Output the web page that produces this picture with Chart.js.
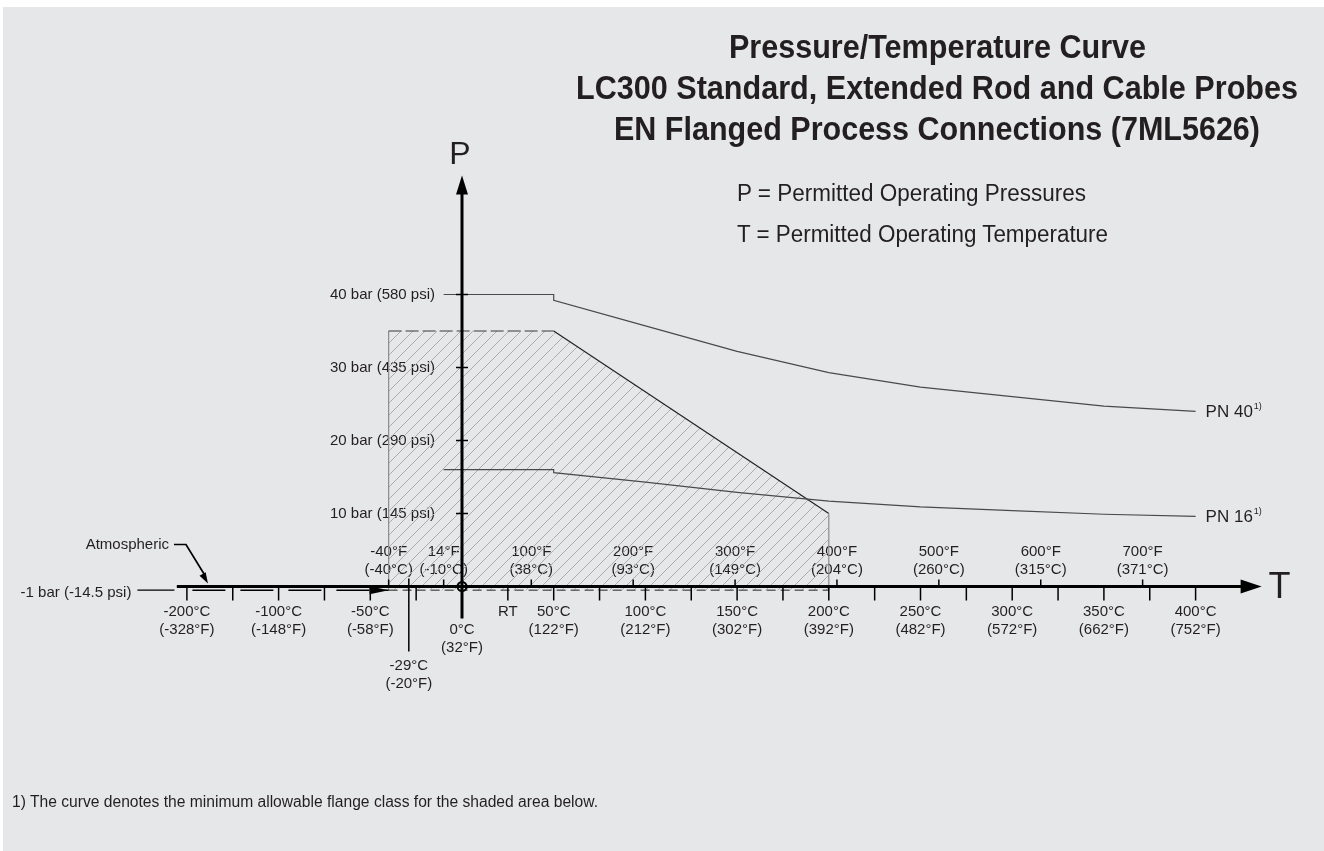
<!DOCTYPE html>
<html>
<head>
<meta charset="utf-8">
<script src="https://cdn.jsdelivr.net/npm/chart.js"></script>
<style>
html,body{margin:0;padding:0;background:#fff;width:1324px;height:851px;overflow:hidden}
#bg{position:absolute;left:3px;top:7px;right:0;bottom:0;background:#e6e7e8}
#wrap{position:absolute;left:0;top:0;width:1324px;height:851px}
.txt{position:absolute;white-space:nowrap;font-family:"Liberation Sans",Arial,Helvetica,sans-serif;color:#231f20;line-height:1;display:inline-block;transform-origin:0 0}
</style>
</head>
<body>
<div id="bg"></div>
<div id="wrap"><canvas id="c" width="1324" height="851"></canvas></div>
<span class="txt" id="t1"></span>
<span class="txt" id="t2"></span>
<span class="txt" id="t3"></span>
<span class="txt" id="l1"></span>
<span class="txt" id="l2"></span>
<span class="txt" id="fn"></span>
<script>
// ---------------- data ----------------
const titleLines = ['Pressure/Temperature Curve', 'LC300 Standard, Extended Rod and Cable Probes', 'EN Flanged Process Connections (7ML5626)'];
const legendLines = ['P = Permitted Operating Pressures', 'T = Permitted Operating Temperature'];
const footnote = '1) The curve denotes the minimum allowable flange class for the shaded area below.';

const pn40Temps = [-10, 50, 50, 100, 150, 200, 250, 300, 350, 400];
const pn40Bar   = [40, 40, 39.2, 35.7, 32.2, 29.3, 27.3, 26.0, 24.7, 24.0];
const pn16Temps = [-10, 50, 50, 100, 150, 200, 250, 300, 350, 400];
const pn16Bar   = [16, 16, 15.6, 14.3, 12.9, 11.7, 10.9, 10.4, 9.9, 9.6];

const shadedTemps = [-40, -40, 50, 200, 200];
const shadedBar   = [-1, 35, 35, 10, -1];

const vacuumTemps = [-40, 200];
const vacuumBar   = [-1, -1];
const brokenVacuumTemps = [-194, -40];
const brokenVacuumBar   = [-1, -1];

const celsiusTickValues = [-200, -150, -100, -75, -50, -25, 25, 50, 75, 100, 125, 150, 175, 200, 225, 250, 275, 300, 325, 350, 375, 400];
const celsiusLabelValues = [-200, -100, -50, 50, 100, 150, 200, 250, 300, 350, 400];
const celsiusLabelText = ['-200°C', '-100°C', '-50°C', '50°C', '100°C', '150°C', '200°C', '250°C', '300°C', '350°C', '400°C'];
const celsiusLabelSub  = ['(-328°F)', '(-148°F)', '(-58°F)', '(122°F)', '(212°F)', '(302°F)', '(392°F)', '(482°F)', '(572°F)', '(662°F)', '(752°F)'];

const fahrenheitValues = [-40, 14, 100, 200, 300, 400, 500, 600, 700];
const fahrenheitText = ['-40°F', '14°F', '100°F', '200°F', '300°F', '400°F', '500°F', '600°F', '700°F'];
const fahrenheitSub  = ['(-40°C)', '(-10°C)', '(38°C)', '(93°C)', '(149°C)', '(204°C)', '(260°C)', '(315°C)', '(371°C)'];

const pressureTickValues = [10, 20, 30, 40];
const pressureTickText = ['10 bar (145 psi)', '20 bar (290 psi)', '30 bar (435 psi)', '40 bar (580 psi)'];

const roomTemp = 25;
const lowTemp = -29;
const lowTempText = ['-29°C', '(-20°F)'];
const zeroText = ['0°C', '(32°F)'];
const vacuumText = '-1 bar (-14.5 psi)';
const atmText = 'Atmospheric';

// ---------------- helpers ----------------
const FONT = '"Liberation Sans", Arial, Helvetica, sans-serif';
const INK = '#231f20';
const fToC = f => (f - 32) * 5 / 9;

// linear scale with a compressed section below `breakAt`
class BrokenLinearScale extends Chart.LinearScale {
  fwd(v) {
    const b = this.options.breakAt, f = this.options.breakFactor;
    if (v === null || v === undefined) return v;
    return v < b ? b + (v - b) * f : v;
  }
  inv(p) {
    const b = this.options.breakAt, f = this.options.breakFactor;
    return p < b ? b + (p - b) / f : p;
  }
  configure() {
    super.configure();
    this._startValue = this.fwd(this.min);
    this._endValue = this.fwd(this.max);
    this._valueRange = this._endValue - this._startValue;
  }
  getPixelForValue(v) { return super.getPixelForValue(this.fwd(v)); }
  getValueForPixel(p) { return this.inv(super.getValueForPixel(p)); }
}
BrokenLinearScale.id = 'brokenLinear';
BrokenLinearScale.defaults = Chart.LinearScale.defaults;
Chart.register(BrokenLinearScale);

function hatchPattern(s, color) {
  const c = document.createElement('canvas');
  c.width = s; c.height = s;
  const g = c.getContext('2d');
  g.strokeStyle = color; g.lineWidth = 1;
  g.beginPath();
  g.moveTo(-1, s + 1); g.lineTo(s + 1, -1);
  g.moveTo(-1, 1); g.lineTo(1, -1);
  g.moveTo(s - 1, s + 1); g.lineTo(s + 1, s - 1);
  g.stroke();
  return g.createPattern(c, 'repeat');
}

const pts = (xs, ys) => xs.map((t, i) => ({x: t, y: ys[i]}));

function line(ctx, x1, y1, x2, y2) { ctx.beginPath(); ctx.moveTo(x1, y1); ctx.lineTo(x2, y2); ctx.stroke(); }
function tri(ctx, tx, ty, bx1, by1, bx2, by2) { ctx.beginPath(); ctx.moveTo(tx, ty); ctx.lineTo(bx1, by1); ctx.lineTo(bx2, by2); ctx.closePath(); ctx.fill(); }

const diagramPlugin = {
  id: 'ptDiagram',
  beforeDatasetsDraw(chart) {
    const {ctx} = chart; const sx = chart.scales.x, sy = chart.scales.y;
    const X = v => sx.getPixelForValue(v), Y = v => sy.getPixelForValue(v);
    const yA = Y(0);
    ctx.save();
    ctx.fillStyle = INK; ctx.font = '15px ' + FONT; ctx.textBaseline = 'middle';
    ctx.textAlign = 'right';
    pressureTickValues.forEach((v, i) => ctx.fillText(pressureTickText[i], X(0) - 27, Y(v)));
    ctx.textAlign = 'center';
    fahrenheitValues.forEach((f, i) => {
      const px = X(fToC(f));
      ctx.fillText(fahrenheitText[i], px, yA - 35);
      ctx.fillText(fahrenheitSub[i], px, yA - 17);
    });
    ctx.restore();
  },
  afterDatasetsDraw(chart) {
    const {ctx} = chart; const sx = chart.scales.x, sy = chart.scales.y;
    const X = v => sx.getPixelForValue(v), Y = v => sy.getPixelForValue(v);
    const yA = Y(0), x0 = X(0);
    ctx.save();
    ctx.strokeStyle = '#000'; ctx.fillStyle = '#000';

    // T axis (thick) with arrow
    const xStart = X(-211), xTip = X(436);
    ctx.lineWidth = 3;
    line(ctx, xStart, yA, xTip - 14, yA);
    tri(ctx, xTip, yA, xTip - 21, yA - 7, xTip - 21, yA + 7);

    // P axis with arrow
    const yTip = Y(56.3);
    line(ctx, x0, yA + 32, x0, yTip + 12);
    tri(ctx, x0, yTip, x0 - 6, yTip + 19, x0 + 6, yTip + 19);

    // pressure ticks
    ctx.lineWidth = 1.5;
    pressureTickValues.forEach(v => line(ctx, x0 - 6, Y(v), x0 + 6, Y(v)));

    // lower celsius ticks
    celsiusTickValues.forEach(v => line(ctx, X(v), yA, X(v), yA + 14));
    // upper fahrenheit ticks
    fahrenheitValues.forEach(f => line(ctx, X(fToC(f)), yA - 7, X(fToC(f)), yA));
    // -29 °C long marker
    line(ctx, X(lowTemp), yA - 8, X(lowTemp), yA + 65);

    // origin circle
    ctx.lineWidth = 2;
    ctx.beginPath(); ctx.arc(x0, yA, 4.5, 0, Math.PI * 2); ctx.stroke();

    // arrow head on broken vacuum line
    const ax = X(brokenVacuumTemps[1]), ay = Y(brokenVacuumBar[1]);
    tri(ctx, ax, ay, ax - 19, ay - 4, ax - 19, ay + 4);

    // -1 bar label + leader
    const vx = X(brokenVacuumTemps[0]);
    ctx.lineWidth = 1.3;
    line(ctx, vx - 55, ay, vx - 18, ay);
    ctx.fillStyle = INK; ctx.font = '15px ' + FONT; ctx.textBaseline = 'middle';
    ctx.textAlign = 'right';
    ctx.fillText(vacuumText, vx - 61, ay + 3);

    // Atmospheric label + leader arrow
    const tipX = X(-177), tipY = yA - 3;
    const kx = tipX - 22, ky = yA - 42;
    ctx.strokeStyle = '#000'; ctx.fillStyle = '#000';
    ctx.lineWidth = 1.7;
    ctx.beginPath(); ctx.moveTo(kx - 12, ky); ctx.lineTo(kx, ky); ctx.lineTo(tipX - 3, tipY - 8); ctx.stroke();
    const ang = Math.atan2(tipY - ky, tipX - kx);
    const bx = tipX - 11 * Math.cos(ang), by = tipY - 11 * Math.sin(ang);
    tri(ctx, tipX, tipY, bx + 3.5 * Math.sin(ang), by - 3.5 * Math.cos(ang), bx - 3.5 * Math.sin(ang), by + 3.5 * Math.cos(ang));
    ctx.fillStyle = INK;
    ctx.fillText(atmText, kx - 17, ky);

    // lower labels
    ctx.textAlign = 'center';
    celsiusLabelValues.forEach((v, i) => {
      ctx.fillText(celsiusLabelText[i], X(v), yA + 25);
      ctx.fillText(celsiusLabelSub[i], X(v), yA + 43);
    });
    ctx.fillText('RT', X(roomTemp), yA + 25);
    ctx.fillText(zeroText[0], x0, yA + 43);
    ctx.fillText(zeroText[1], x0, yA + 61);
    ctx.fillText(lowTempText[0], X(lowTemp), yA + 79);
    ctx.fillText(lowTempText[1], X(lowTemp), yA + 97);

    // axis letters
    ctx.font = '36px ' + FONT;
    ctx.textAlign = 'left';
    ctx.fillText('T', xTip + 7, yA + 2);
    ctx.textAlign = 'center';
    ctx.font = '32px ' + FONT;
    ctx.fillText('P', x0 - 2, yTip - 20);

    // curve labels
    [['PN 40', pn40Temps, pn40Bar], ['PN 16', pn16Temps, pn16Bar]].forEach(([lab, ts, bs]) => {
      const px = X(ts[ts.length - 1]) + 10, py = Y(bs[bs.length - 1]) + 1;
      ctx.textAlign = 'left';
      ctx.font = '17px ' + FONT;
      ctx.fillText(lab, px, py);
      const w = ctx.measureText(lab).width;
      ctx.font = '9px ' + FONT;
      ctx.fillText('1)', px + w + 1, py - 6);
    });
    ctx.restore();
  }
};

const hatch = hatchPattern(12, '#adadad');
const edgeColors = ['#8c8c8c', '#3a3a3a', '#222222', '#8c8c8c'];

new Chart(document.getElementById('c'), {
  type: 'line',
  data: {
    datasets: [
      { label: 'PN 40', data: pts(pn40Temps, pn40Bar), borderColor: '#4a4a4a', borderWidth: 1.2, pointRadius: 0, fill: false, tension: 0, order: 1 },
      { label: 'PN 16', data: pts(pn16Temps, pn16Bar), borderColor: '#4a4a4a', borderWidth: 1.2, pointRadius: 0, fill: false, tension: 0, order: 1 },
      { label: '-1 bar', data: pts(vacuumTemps, vacuumBar), borderColor: '#222', borderWidth: 1, borderDash: [9, 5], pointRadius: 0, fill: false, order: 2 },
      { label: '-1 bar (broken axis)', data: pts(brokenVacuumTemps, brokenVacuumBar), borderColor: '#000', borderWidth: 1.5, borderDash: [33, 15], pointRadius: 0, fill: false, order: 2 },
      { label: 'Permitted area', data: pts(shadedTemps, shadedBar), backgroundColor: hatch, fill: {value: -1},
        borderWidth: 1.2, pointRadius: 0, tension: 0, order: 10,
        segment: {
          borderColor: c => edgeColors[c.p0DataIndex],
          borderDash: c => c.p0DataIndex === 1 ? [13, 4] : []
        } }
    ]
  },
  options: {
    responsive: false,
    animation: false,
    devicePixelRatio: 1,
    layout: { padding: { left: 168.56, right: 55.04, top: 177.7, bottom: 235.3 } },
    scales: {
      x: { type: 'brokenLinear', breakAt: -100, breakFactor: 0.5, min: -220, max: 440, display: false },
      y: { type: 'brokenLinear', breakAt: 0, breakFactor: 0.5, min: -8, max: 56, display: false }
    },
    plugins: { legend: { display: false }, tooltip: { enabled: false } },
    events: []
  },
  plugins: [diagramPlugin]
});

// ---------------- HTML text (title, legend, footnote) ----------------
function fitText(id, text, x, y, width, size, bold, align) {
  const el = document.getElementById(id);
  el.textContent = text;
  el.style.fontSize = size + 'px';
  el.style.fontWeight = bold ? '700' : '400';
  const natural = el.getBoundingClientRect().width;
  const k = width / natural;
  el.style.left = (align === 'center' ? x - width / 2 : x) + 'px';
  el.style.top = (y - size / 2) + 'px';
  el.style.transform = 'scaleX(' + k + ')';
}
fitText('t1', titleLines[0], 937, 46, 417, 33, true, 'center');
fitText('t2', titleLines[1], 937, 87, 722, 33, true, 'center');
fitText('t3', titleLines[2], 937, 128, 646, 33, true, 'center');
fitText('l1', legendLines[0], 737, 193, 349, 23, false, 'left');
fitText('l2', legendLines[1], 737, 234, 371, 23, false, 'left');
fitText('fn', footnote, 12, 802, 586, 16, false, 'left');
</script>
</body>
</html>
